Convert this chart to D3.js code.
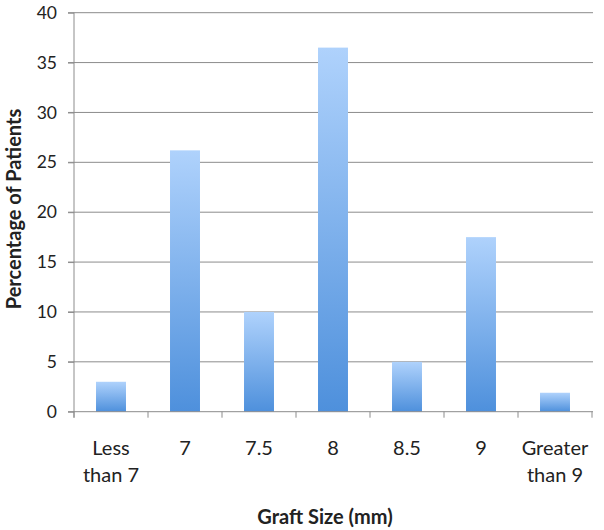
<!DOCTYPE html>
<html>
<head>
<meta charset="utf-8">
<script src="https://cdn.jsdelivr.net/npm/d3@7"></script>
<style>
  html, body { margin: 0; padding: 0; background: #fff; }
  svg { display: block; }
  text { font-family: Lato, "Open Sans", sans-serif; fill: #222; }
</style>
</head>
<body>
<svg id="chart" width="604" height="530"></svg>
<script>
const categories = [["Less", "than 7"], ["7"], ["7.5"], ["8"], ["8.5"], ["9"], ["Greater", "than 9"]];
const values = [3.0, 26.2, 10.0, 36.5, 5.0, 17.5, 1.9];
const yTicks = [0, 5, 10, 15, 20, 25, 30, 35, 40];
const yTitle = "Percentage of Patients";
const xTitle = "Graft Size (mm)";

const svg = d3.select("#chart");
const mLeft = 74, mRight = 592, mTop = 12.7, mBottom = 411.7;

const keys = categories.map((c, i) => i);
const xBand = d3.scaleBand().domain(keys).range([mLeft, mRight]).paddingInner(0.595).paddingOuter(0.2975);
const xTick = d3.scaleBand().domain(keys).range([mLeft, mRight]).padding(0);
const y = d3.scaleLinear().domain([0, 40]).range([mBottom, mTop]);

const defs = svg.append("defs");
const grad = defs.append("linearGradient").attr("id", "barGrad")
  .attr("x1", 0).attr("y1", 0).attr("x2", 0).attr("y2", 1);
grad.append("stop").attr("offset", "0%").attr("stop-color", "#afd2fc");
grad.append("stop").attr("offset", "100%").attr("stop-color", "#4e90dc");

// gridlines
svg.append("g").selectAll("line").data(yTicks.filter(d => d > 0)).join("line")
  .attr("x1", mLeft - 6).attr("x2", mRight + 1)
  .attr("y1", d => y(d)).attr("y2", d => y(d))
  .attr("stroke", "#8c8c8c").attr("stroke-width", 1);

// bars
svg.append("g").selectAll("rect").data(values).join("rect")
  .attr("x", (d, i) => xBand(i))
  .attr("width", xBand.bandwidth())
  .attr("y", d => y(d))
  .attr("height", d => y(0) - y(d))
  .attr("fill", "url(#barGrad)");

// y axis
const yAxis = d3.axisLeft(y).tickValues(yTicks).tickSize(6).tickPadding(11);
const gy = svg.append("g").attr("transform", `translate(${mLeft},0)`).call(yAxis);
gy.select(".domain").attr("stroke", "#8c8c8c").attr("d", `M0,${y(40)}V${mBottom + 6}`);
gy.selectAll(".tick line").attr("stroke", "#8c8c8c");
gy.selectAll(".tick text").style("font-size", "17.5px").attr("fill", "#222")
  .style("font-family", "Lato, 'Open Sans', sans-serif");

// x axis
const xBoundaries = d3.range(categories.length + 1).map(i => mLeft + i * xTick.step());
const gx = svg.append("g");
gx.append("line").attr("x1", mLeft - 6).attr("x2", mRight + 1).attr("y1", mBottom).attr("y2", mBottom)
  .attr("stroke", "#8c8c8c");
gx.selectAll(".xt").data(xBoundaries).join("line").attr("class", "xt")
  .attr("x1", d => d).attr("x2", d => d).attr("y1", mBottom).attr("y2", mBottom + 6)
  .attr("stroke", "#8c8c8c");

const labels = svg.append("g").selectAll("text").data(categories).join("text")
  .attr("text-anchor", "middle")
  .attr("x", (d, i) => xTick(i) + xTick.bandwidth() / 2)
  .attr("y", 455)
  .style("font-size", "20px");
labels.selectAll("tspan").data(d => d).join("tspan")
  .attr("x", function() { return this.parentNode.getAttribute("x"); })
  .attr("dy", (d, i) => i === 0 ? 0 : 26.5)
  .text(d => d);

svg.append("text").attr("x", 325).attr("y", 524).attr("text-anchor", "middle")
  .style("font-size", "20px").style("font-weight", "bold").text(xTitle);

svg.append("text").attr("transform", `translate(21,209) rotate(-90)`)
  .attr("text-anchor", "middle")
  .style("font-size", "20px").style("font-weight", "bold").text(yTitle);
</script>
</body>
</html>
